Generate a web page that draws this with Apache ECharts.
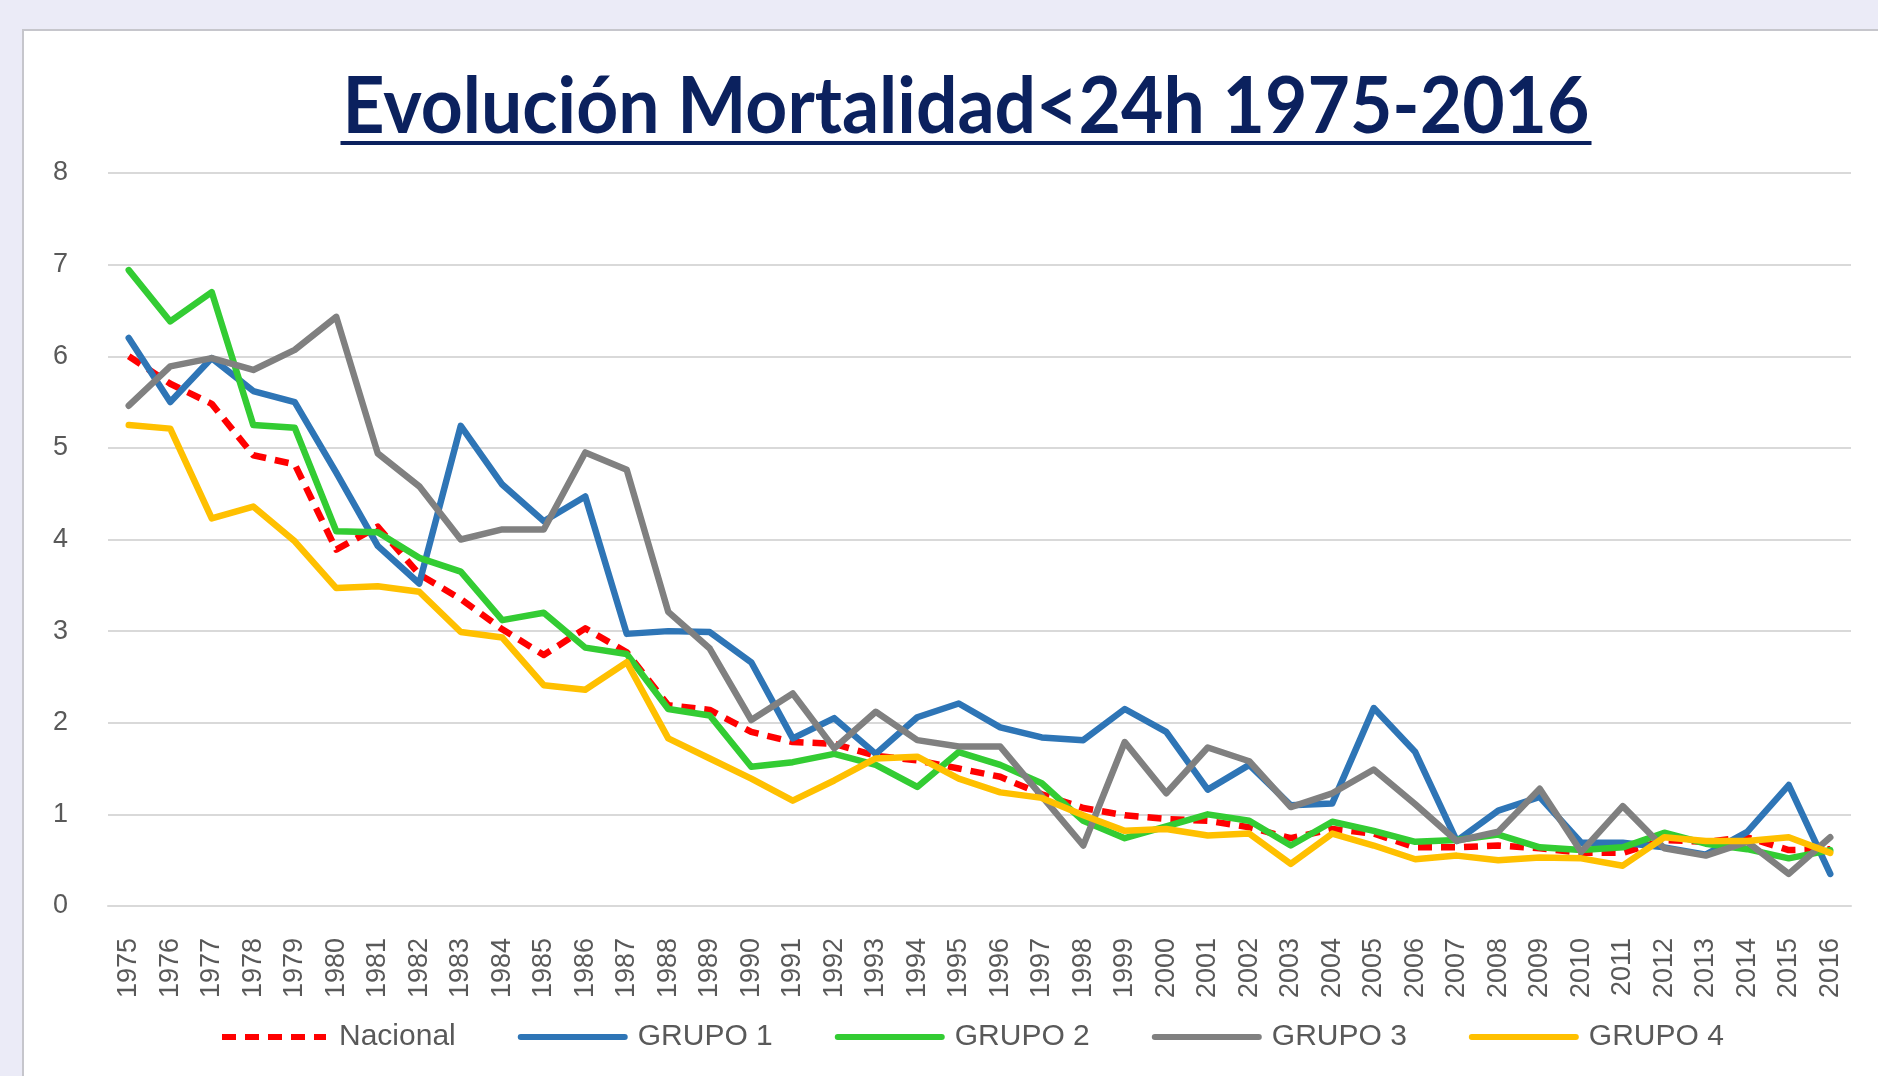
<!DOCTYPE html>
<html>
<head>
<meta charset="utf-8">
<script src="https://cdn.jsdelivr.net/npm/echarts@6/dist/echarts.min.js"></script>
<style>
  html, body { margin: 0; padding: 0; width: 1878px; height: 1076px; overflow: hidden; background: #ebebf7; }
  #panel { position: absolute; left: 22px; top: 29px; width: 1900px; height: 1100px; background: #fff;
           border-left: 2px solid #c6c6cc; border-top: 2px solid #c6c6cc; }
  #chart { position: absolute; left: 0; top: 0; width: 1878px; height: 1076px; }
</style>
</head>
<body>
<div id="panel"></div>
<div id="chart"></div>
<script>
// años (categorías del eje X)
const years = ['1975','1976','1977','1978','1979','1980','1981','1982','1983','1984','1985','1986','1987','1988',
  '1989','1990','1991','1992','1993','1994','1995','1996','1997','1998','1999','2000','2001','2002','2003','2004',
  '2005','2006','2007','2008','2009','2010','2011','2012','2013','2014','2015','2016'];

const nacional = [6.00,5.70,5.48,4.92,4.82,3.89,4.14,3.62,3.35,3.02,2.74,3.03,
  2.77,2.19,2.14,1.90,1.79,1.77,1.64,1.59,1.50,1.41,1.22,
  1.07,0.99,0.95,0.93,0.86,0.74,0.84,0.79,0.64,0.64,0.66,
  0.63,0.58,0.58,0.72,0.70,0.75,0.61,0.62];
const grupo1 = [6.20,5.50,5.98,5.62,5.50,4.73,3.93,3.52,5.24,4.60,4.20,4.47,
  2.97,3.00,2.99,2.66,1.83,2.05,1.66,2.06,2.21,1.95,1.84,
  1.81,2.15,1.90,1.27,1.54,1.10,1.12,2.16,1.68,0.71,1.04,
  1.19,0.69,0.69,0.64,0.56,0.81,1.32,0.35];
const grupo2 = [6.94,6.38,6.70,5.25,5.22,4.09,4.08,3.80,3.65,3.12,3.20,2.82,
  2.75,2.15,2.08,1.52,1.57,1.66,1.54,1.30,1.68,1.54,1.34,
  0.93,0.74,0.87,1.00,0.93,0.66,0.92,0.82,0.70,0.72,0.78,
  0.64,0.61,0.64,0.80,0.68,0.62,0.52,0.61];
const grupo3 = [5.46,5.89,5.98,5.85,6.07,6.43,4.94,4.58,4.00,4.11,4.11,4.95,
  4.76,3.21,2.81,2.03,2.32,1.72,2.12,1.81,1.74,1.74,1.20,
  0.66,1.79,1.23,1.73,1.58,1.08,1.23,1.49,1.11,0.71,0.81,
  1.28,0.59,1.09,0.63,0.55,0.70,0.35,0.75];
const grupo4 = [5.25,5.21,4.23,4.36,3.98,3.47,3.49,3.43,2.99,2.93,2.41,2.36,
  2.66,1.83,1.61,1.39,1.15,1.37,1.61,1.63,1.39,1.24,1.18,
  0.99,0.82,0.84,0.77,0.79,0.46,0.79,0.66,0.51,0.55,0.50,
  0.53,0.52,0.44,0.75,0.71,0.71,0.75,0.58];

const titulo = 'Evolución Mortalidad<24h 1975-2016';
const titleFont = 'bold 78px Lato, "Open Sans", sans-serif';
const labelFont = "'Liberation Sans', 'DejaVu Sans', sans-serif";

// ancho del título: se estrecha horizontalmente para parecerse a Calibri
const ctx = document.createElement('canvas').getContext('2d');
ctx.font = titleFont;
const anchoTitulo = 1247;
const escalaX = anchoTitulo / ctx.measureText(titulo).width;

const chart = echarts.init(document.getElementById('chart'));

function serie(name, data, color, dashed) {
  return {
    name: name,
    type: 'line',
    data: data,
    symbol: 'none',
    lineStyle: dashed
      ? { color: color, width: 6.5, type: [14, 9], cap: 'butt', join: 'round' }
      : { color: color, width: 6.5, cap: 'round', join: 'round' },
    itemStyle: { color: color }
  };
}

chart.setOption({
  animation: false,
  graphic: [
    {
      type: 'text',
      x: 966, y: 108,
      scaleX: escalaX,
      style: { text: titulo, font: titleFont, fill: '#0b215e', align: 'center', verticalAlign: 'middle' }
    },
    // subrayado del título
    { type: 'rect', shape: { x: 966 - anchoTitulo / 2 - 2, y: 141, width: anchoTitulo + 4, height: 4 }, style: { fill: '#0b215e' } }
  ],
  grid: { left: 108, right: 27, top: 173, bottom: 170, containLabel: false },
  legend: {
    left: 214,
    top: 1017,
    itemWidth: 104,
    itemHeight: 6,
    itemGap: 62,
    itemStyle: { opacity: 0 },
    lineStyle: { width: 6 },
    textStyle: { fontFamily: labelFont, fontSize: 30, color: '#595959', padding: [0, 0, 0, 8] },
    data: [
      { name: 'Nacional', textStyle: { width: 126 } },
      'GRUPO 1', 'GRUPO 2', 'GRUPO 3', 'GRUPO 4'
    ]
  },
  xAxis: {
    type: 'category',
    data: years,
    boundaryGap: true,
    axisLine: { show: true, lineStyle: { color: '#d9d9d9', width: 2 } },
    axisTick: { show: false },
    axisLabel: { rotate: 90, margin: 32, interval: 0, fontFamily: labelFont, fontSize: 27, color: '#595959' }
  },
  yAxis: {
    type: 'value',
    min: 0,
    max: 8,
    interval: 1,
    axisLine: { show: false },
    axisTick: { show: false },
    splitLine: { lineStyle: { color: '#d9d9d9', width: 2 } },
    axisLabel: { margin: 40, fontFamily: labelFont, fontSize: 27, color: '#595959' }
  },
  series: [
    serie('Nacional', nacional, '#ff0000', true),
    serie('GRUPO 1', grupo1, '#2e75b6', false),
    serie('GRUPO 2', grupo2, '#33cc33', false),
    serie('GRUPO 3', grupo3, '#808080', false),
    serie('GRUPO 4', grupo4, '#ffc000', false)
  ]
});
</script>
</body>
</html>
